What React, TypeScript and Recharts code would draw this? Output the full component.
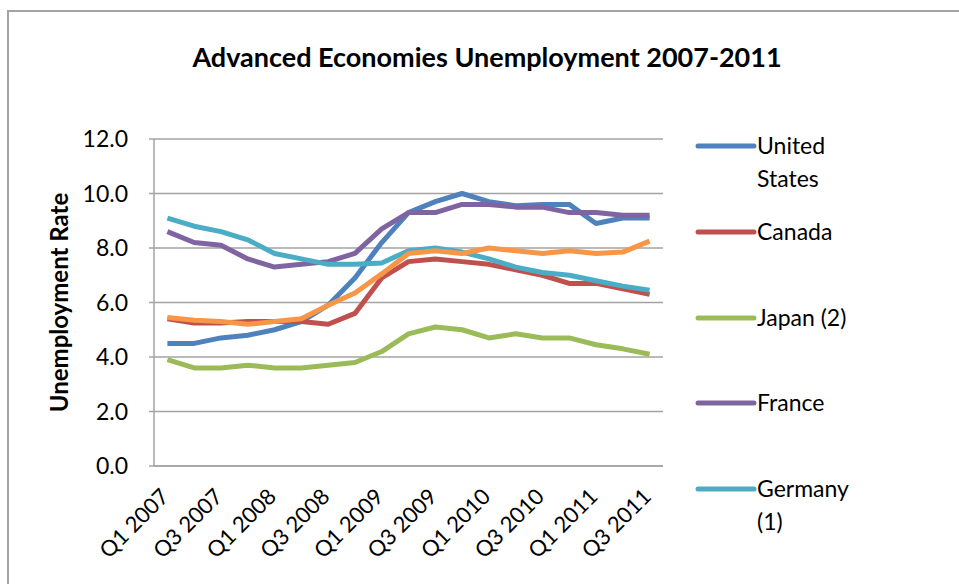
import { LineChart, Line, XAxis, YAxis, CartesianGrid, Label } from "recharts";

const quarters = [
  "Q1 2007", "Q2 2007", "Q3 2007", "Q4 2007",
  "Q1 2008", "Q2 2008", "Q3 2008", "Q4 2008",
  "Q1 2009", "Q2 2009", "Q3 2009", "Q4 2009",
  "Q1 2010", "Q2 2010", "Q3 2010", "Q4 2010",
  "Q1 2011", "Q2 2011", "Q3 2011",
];

const unitedStates = [4.5, 4.5, 4.7, 4.8, 5.0, 5.3, 5.9, 6.9, 8.2, 9.3, 9.7, 10.0, 9.7, 9.55, 9.6, 9.6, 8.9, 9.1, 9.1];
const canada = [5.4, 5.25, 5.25, 5.3, 5.3, 5.3, 5.2, 5.6, 6.9, 7.5, 7.6, 7.5, 7.4, 7.2, 7.0, 6.7, 6.7, 6.5, 6.3];
const japan = [3.9, 3.6, 3.6, 3.7, 3.6, 3.6, 3.7, 3.8, 4.2, 4.85, 5.1, 5.0, 4.7, 4.85, 4.7, 4.7, 4.45, 4.3, 4.1];
const france = [8.6, 8.2, 8.1, 7.6, 7.3, 7.4, 7.5, 7.8, 8.7, 9.3, 9.3, 9.6, 9.6, 9.5, 9.5, 9.3, 9.3, 9.2, 9.2];
const germany = [9.1, 8.8, 8.6, 8.3, 7.8, 7.6, 7.4, 7.4, 7.45, 7.9, 8.0, 7.85, 7.6, 7.3, 7.1, 7.0, 6.8, 6.6, 6.45];
const unitedKingdom = [5.45, 5.35, 5.3, 5.2, 5.3, 5.4, 5.9, 6.35, 7.05, 7.8, 7.9, 7.8, 8.0, 7.9, 7.8, 7.9, 7.8, 7.85, 8.25];

const yTicks = [0, 2, 4, 6, 8, 10, 12];

// drawn in this order, later series on top (like the excel original)
const SERIES = [
  { key: "us", name: "United States", color: "#4F81BD", values: unitedStates, legend: true },
  { key: "ca", name: "Canada", color: "#C0504D", values: canada, legend: true },
  { key: "jp", name: "Japan (2)", color: "#9BBB59", values: japan, legend: true },
  { key: "fr", name: "France", color: "#8064A2", values: france, legend: true },
  { key: "de", name: "Germany (1)", color: "#4BACC6", values: germany, legend: true },
  { key: "uk", name: "United Kingdom", color: "#F79646", values: unitedKingdom, legend: false },
];

const FONT = "Lato, 'Liberation Sans', sans-serif";
const GRID = "#a3a3a3";

const data = quarters.map((q, i) => {
  const row: Record<string, string | number> = { quarter: q };
  SERIES.forEach((s) => {
    row[s.key] = s.values[i];
  });
  return row;
});

function QuarterTick({ x, y, payload }: any) {
  const tx = x + 3;
  const ty = y + 32;
  return (
    <text
      x={tx}
      y={ty}
      transform={`rotate(-45, ${tx}, ${ty})`}
      textAnchor="end"
      fontFamily={FONT}
      fontSize={22}
      fill="#000"
    >
      {payload.value}
    </text>
  );
}

function AxisTitle({ viewBox }: any) {
  const cx = viewBox.x - 36;
  const cy = viewBox.y + viewBox.height / 2;
  return (
    <text
      x={cx}
      y={cy}
      transform={`rotate(-90, ${cx}, ${cy})`}
      textAnchor="middle"
      dominantBaseline="central"
      fontFamily={FONT}
      fontSize={24}
      fontWeight="bold"
      fill="#000"
    >
      Unemployment Rate
    </text>
  );
}

export default function App() {
  return (
    <div
      style={{
        position: "absolute",
        left: 0,
        top: 0,
        width: 959,
        height: 584,
        overflow: "hidden",
        background: "#fff",
      }}
    >
      <div
        style={{
          position: "absolute",
          left: 7,
          top: 10,
          width: 1000,
          height: 1000,
          borderLeft: `2px solid ${GRID}`,
          borderTop: `2px solid ${GRID}`,
        }}
      />
      <div
        style={{
          position: "absolute",
          left: 137,
          top: 41,
          width: 700,
          lineHeight: "32px",
          textAlign: "center",
          whiteSpace: "nowrap",
          fontFamily: FONT,
          fontWeight: "bold",
          fontSize: 27,
          color: "#000",
        }}
      >
        Advanced Economies Unemployment 2007-2011
      </div>

      <div style={{ position: "absolute", left: 0, top: 0 }}>
        <LineChart
          width={959}
          height={584}
          data={data}
          margin={{ top: 139, right: 296, left: 94, bottom: 38 }}
        >
          <CartesianGrid vertical={false} stroke={GRID} strokeWidth={1.5} />
          <XAxis
            dataKey="quarter"
            interval={1}
            height={80}
            padding={{ left: 13.4, right: 13.4 }}
            tickSize={0}
            tickMargin={0}
            tick={<QuarterTick />}
            axisLine={{ stroke: GRID, strokeWidth: 1.5 }}
          />
          <YAxis
            width={60}
            domain={[0, 12]}
            ticks={yTicks}
            tickFormatter={(v: number) => v.toFixed(1)}
            tickSize={5}
            tickMargin={21}
            tickLine={{ stroke: GRID, strokeWidth: 1.5 }}
            axisLine={{ stroke: GRID, strokeWidth: 1.5 }}
            tick={{ fill: "#000", fontSize: 23, fontFamily: FONT }}
          >
            <Label content={<AxisTitle />} />
          </YAxis>
          {SERIES.map((s) => (
            <Line
              key={s.key}
              type="linear"
              dataKey={s.key}
              name={s.name}
              stroke={s.color}
              strokeWidth={5}
              strokeLinejoin="round"
              dot={false}
              isAnimationActive={false}
            />
          ))}
        </LineChart>
      </div>

      <div style={{ position: "absolute", left: 695, top: 129 }}>
        {SERIES.filter((s) => s.legend).map((s) => (
          <div key={s.key} style={{ display: "flex", alignItems: "flex-start", height: 85.75 }}>
            <svg width={62} height={33}>
              <line x1={3} x2={59} y1={17} y2={17} stroke={s.color} strokeWidth={5} strokeLinecap="round" />
            </svg>
            <div
              style={{
                width: 110,
                fontFamily: FONT,
                fontSize: 23,
                lineHeight: "33px",
                color: "#000",
              }}
            >
              {s.name}
            </div>
          </div>
        ))}
      </div>
    </div>
  );
}
